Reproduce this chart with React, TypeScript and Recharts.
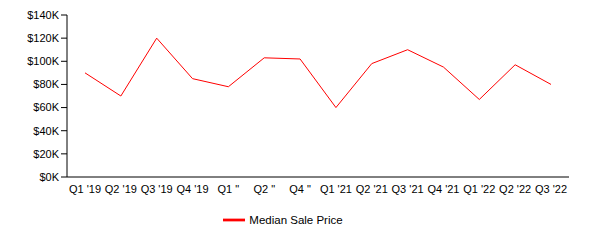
import React from 'react';
import { LineChart, Line, XAxis, YAxis, Legend } from 'recharts';

// Quarter labels as they appear on the chart (2020 labels are truncated in the source)
const QUARTERS = ["Q1 '19", "Q2 '19", "Q3 '19", "Q4 '19", 'Q1 "', 'Q2 "', 'Q4 "', "Q1 '21", "Q2 '21", "Q3 '21", "Q4 '21", "Q1 '22", "Q2 '22", "Q3 '22"];
const MEDIAN_PRICE = [90000, 70000, 120000, 85000, 78000, 103000, 102000, 60000, 98000, 110000, 95000, 67000, 97000, 80000];
const Y_TICKS = [0, 20000, 40000, 60000, 80000, 100000, 120000, 140000];

const data = QUARTERS.map((q, i) => ({ quarter: q, price: MEDIAN_PRICE[i] }));

const FONT = '"Liberation Sans", Arial, sans-serif';
const tickStyle = { fill: '#000', fontSize: 11, fontFamily: FONT };

export default function App() {
  return (
    <div style={{ position: 'fixed', left: 0, top: 0, width: 590, height: 240, background: '#fff' }}>
      <LineChart width={590} height={240} data={data} margin={{ top: 15, right: 21, bottom: 11, left: 7 }}>
        <XAxis
          dataKey="quarter"
          interval={0}
          tickLine={false}
          padding={{ left: 18, right: 18 }}
          stroke="#000"
          tick={tickStyle}
        />
        <YAxis
          domain={[0, 140000]}
          ticks={Y_TICKS}
          stroke="#000"
          tick={tickStyle}
          tickFormatter={(v: number) => `$${v / 1000}K`}
        />
        <Legend
          iconType="plainline"
          iconSize={22}
          wrapperStyle={{ bottom: 9 }}
          formatter={(value: string) => <span style={{ color: '#000', fontSize: 11.5, fontFamily: FONT }}>{value}</span>}
        />
        <Line
          type="linear"
          dataKey="price"
          name="Median Sale Price"
          stroke="#ff0000"
          strokeWidth={1}
          dot={false}
          isAnimationActive={false}
        />
      </LineChart>
    </div>
  );
}
